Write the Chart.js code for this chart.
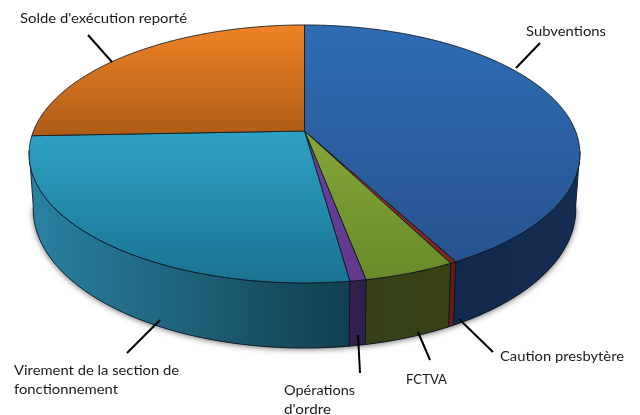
<!DOCTYPE html>
<html>
<head>
<meta charset="utf-8">
<script src="https://cdn.jsdelivr.net/npm/chart.js@4"></script>
<style>
  html, body { margin: 0; padding: 0; background: #fff; }
  canvas { display: block; }
</style>
</head>
<body>
<canvas id="pie" width="640" height="415"></canvas>
<script>
// Data (% of the total)
const categories = ['Subventions', 'Caution presbytère', 'FCTVA', "Opérations d'ordre", 'Virement de la section de fonctionnement', "Solde d'exécution reporté"];
const values = [42.2, 0.3, 4.5, 0.8, 26.6, 25.6];

// Top face gradient (from y, colour, to y, colour) and side gradient (left, right)
const topColors = [
  [25, '#2f6cb4', 283, '#27508c'],
  [25, '#a0342c', 283, '#7e2420'],
  [25, '#9aba40', 283, '#688a29'],
  [25, '#74459f', 283, '#61388c'],
  [131, '#2ea2c4', 283, '#1a7391'],
  [25, '#ef8325', 136, '#ae5c16']
];
const sideColors = [['#11284a', '#142d52'], ['#701d18', '#5e1814'], ['#37401a', '#384213'], ['#33214f', '#2f1e48'], ['#2a82a2', '#123f4f'], ['#8a4a10', '#8a4a10']];

// Label lines (text, x, y, width in the picture) and the leader line of each label
const labelLines = [
  [['Subventions', 526, 32, 80]],
  [['Caution presbytère', 500, 357, 124]],
  [['FCTVA', 406, 380, 41]],
  [['Opérations', 284, 391, 71], ["d'ordre", 284, 410, 47]],
  [['Virement de la section de', 14, 371, 165], ['fonctionnement', 14, 390, 104]],
  [["Solde d'exécution reporté", 20, 19, 167]]
];
const leaders = [
  [[516, 68], [540, 43]],
  [[459, 319], [493, 352]],
  [[418, 332], [430, 360]],
  [[358, 335], [360, 373]],
  [[160, 320], [127, 353]],
  [[112, 62], [88, 35]]
];

// Perspective of the pie: centre of the top face, radii, tilt, thickness
const cx = 304.5, cy = 131, rx = 271, ry = 124.9, tilt = 0.178, depth = 53.5, bottomScale = 0.985;

function topPoint(a) {
  const u = Math.sin(a), v = -Math.cos(a), w = 1 - tilt * v;
  return [cx + rx * u / w, cy + ry * v / w];
}

function bottomPoint(a) {
  const v = -Math.cos(a), w = 1 - tilt * v, p = topPoint(a);
  return [cx + (p[0] - cx) * bottomScale, p[1] + depth / w];
}

function arcPoints(fn, from, to) {
  const pts = [], n = Math.max(2, Math.ceil((to - from) / 0.01));
  for (let i = 0; i <= n; i++) pts.push(fn(from + (to - from) * i / n));
  return pts;
}

function trace(ctx, pts) {
  pts.forEach((p, i) => (i ? ctx.lineTo(p[0], p[1]) : ctx.moveTo(p[0], p[1])));
}

const pie3d = {
  id: 'pie3d',
  beforeDatasetsDraw(chart) {
    const ctx = chart.ctx;
    const arcs = chart.getDatasetMeta(0).data;
    // element angles start at -90deg, here 0 is the top of the pie
    const spans = arcs.map(arc => [arc.startAngle + Math.PI / 2, arc.endAngle + Math.PI / 2]);
    const visFrom = Math.PI - Math.acos(tilt) - 0.02;
    const visTo = Math.PI + Math.acos(tilt) + 0.02;

    // soft shadow under the whole pie
    ctx.save();
    ctx.shadowColor = 'rgba(0,0,0,0.6)';
    ctx.shadowBlur = 6;
    ctx.shadowOffsetY = 1;
    ctx.fillStyle = '#123';
    ctx.beginPath();
    trace(ctx, arcPoints(bottomPoint, visFrom, visTo));
    ctx.closePath();
    ctx.fill();
    ctx.restore();

    // side wall
    spans.forEach((s, i) => {
      const from = Math.max(s[0], visFrom), to = Math.min(s[1], visTo);
      if (to <= from) return;
      const up = arcPoints(topPoint, from, to), down = arcPoints(bottomPoint, from, to).reverse();
      const xs = up.concat(down).map(p => p[0]);
      const g = ctx.createLinearGradient(Math.min(...xs), 0, Math.max(...xs), 0);
      g.addColorStop(0, sideColors[i][0]);
      g.addColorStop(1, sideColors[i][1]);
      ctx.beginPath();
      trace(ctx, up.concat(down));
      ctx.closePath();
      ctx.fillStyle = g;
      ctx.fill();
      ctx.strokeStyle = 'rgba(10,20,30,0.85)';
      ctx.lineWidth = 1;
      ctx.stroke();
    });

    // top face
    spans.forEach((s, i) => {
      const c = topColors[i];
      const g = ctx.createLinearGradient(0, c[0], 0, c[2]);
      g.addColorStop(0, c[1]);
      g.addColorStop(1, c[3]);
      ctx.beginPath();
      trace(ctx, [[cx, cy]].concat(arcPoints(topPoint, s[0], s[1])));
      ctx.closePath();
      ctx.fillStyle = g;
      ctx.fill();
      ctx.strokeStyle = 'rgba(12,24,36,0.85)';
      ctx.lineWidth = 1;
      ctx.stroke();
    });

    // leader lines and labels
    ctx.strokeStyle = '#000';
    ctx.lineWidth = 2;
    leaders.forEach(l => {
      ctx.beginPath();
      trace(ctx, l);
      ctx.stroke();
    });
    ctx.fillStyle = '#1a1a1a';
    ctx.font = '13.5px Lato';
    ctx.textBaseline = 'middle';
    ctx.textAlign = 'left';
    labelLines.forEach(lines => lines.forEach(t => {
      // the reference font runs wider than Lato, stretch each line to its width
      ctx.save();
      ctx.translate(t[1], t[2]);
      ctx.scale(t[3] / ctx.measureText(t[0]).width, 1);
      ctx.fillText(t[0], 0, 0);
      ctx.restore();
    }));
    return false;
  }
};

new Chart(document.getElementById('pie').getContext('2d'), {
  type: 'pie',
  data: {
    labels: categories,
    datasets: [{
      data: values,
      backgroundColor: topColors.map(c => c[1])
    }]
  },
  options: {
    responsive: false,
    animation: false,
    plugins: {
      legend: { display: false },
      tooltip: { enabled: false }
    }
  },
  plugins: [pie3d]
});
</script>
</body>
</html>
